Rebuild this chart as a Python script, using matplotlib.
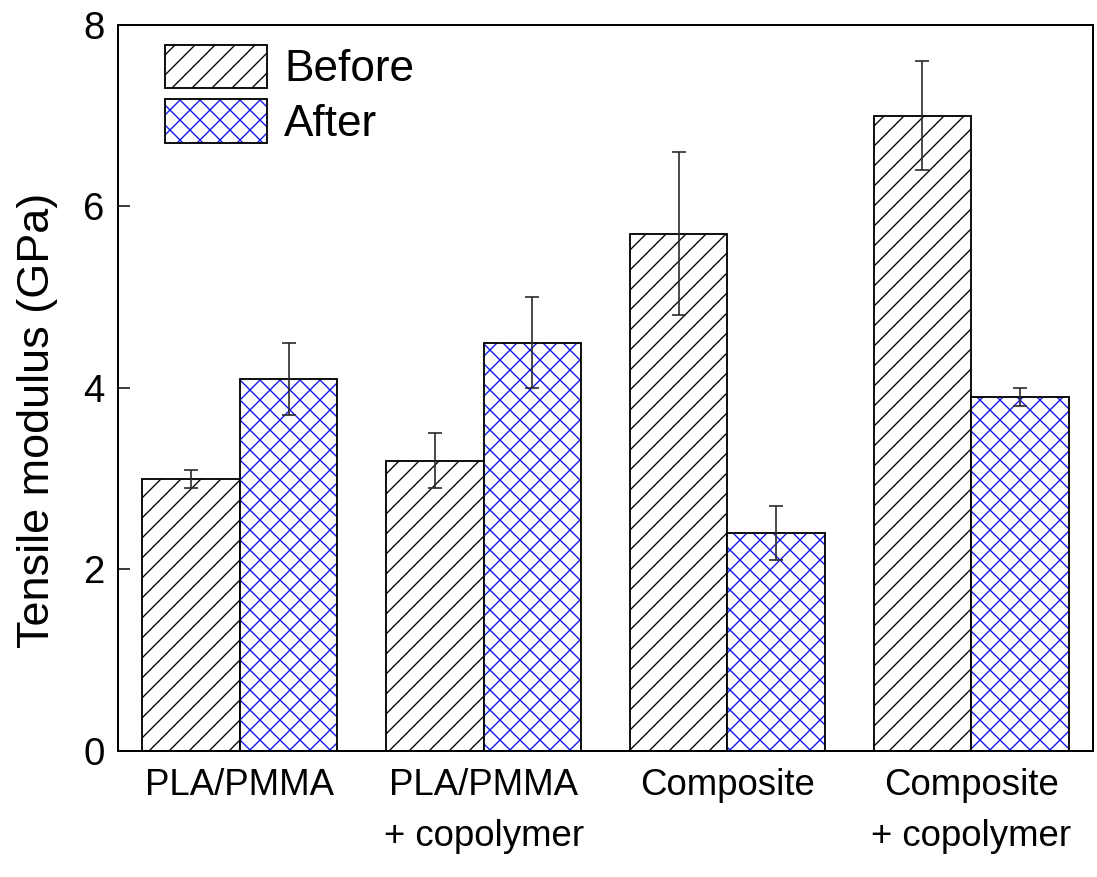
import matplotlib
matplotlib.use("Agg")
import matplotlib.pyplot as plt
import numpy as np
from matplotlib.patches import Patch
from matplotlib.legend_handler import HandlerTuple

# data
categories = ["PLA/PMMA", "PLA/PMMA\n+ copolymer", "Composite", "Composite\n+ copolymer"]
before = [3.0, 3.2, 5.7, 7.0]
before_err = [0.1, 0.3, 0.9, 0.6]
after = [4.1, 4.5, 2.4, 3.9]
after_err = [0.4, 0.5, 0.3, 0.1]

DPI = 120

plt.rcParams['font.family'] = ['Liberation Sans', 'DejaVu Sans']
plt.rcParams['hatch.linewidth'] = 0.8

fig = plt.figure(figsize=(1097 / DPI, 877 / DPI), dpi=DPI)
ax = fig.add_axes([0.1076, 0.1437, 0.8888, 0.8278])

x = np.arange(len(categories))
w = 0.4
blue = '#1010e8'

ax.bar(x - w / 2, before, w, color='white', edgecolor='black', hatch='//', linewidth=1.1, zorder=2)
# after bars: blue hatch first, black outline on top
ax.bar(x + w / 2, after, w, color='white', edgecolor=blue, hatch='xx', linewidth=0, zorder=2)
ax.bar(x + w / 2, after, w, fill=False, edgecolor='black', linewidth=1.1, zorder=3)

ax.errorbar(x - w / 2, before, yerr=before_err, fmt='none', ecolor='#2a2a2a',
            elinewidth=1.0, capsize=4.2, capthick=1.0, zorder=4)
ax.errorbar(x + w / 2, after, yerr=after_err, fmt='none', ecolor='#2a2a2a',
            elinewidth=1.0, capsize=4.2, capthick=1.0, zorder=4)

ax.set_xlim(-0.5, 3.5)
ax.set_ylim(0, 8)
ax.set_yticks([0, 2, 4, 6, 8])
ax.set_xticks(x)
ax.set_xticklabels(categories, fontsize=22, linespacing=1.62)
ax.tick_params(axis='x', length=0, pad=10)
ax.tick_params(axis='y', direction='in', length=7, width=0.9, labelsize=23, pad=8)
for s in ax.spines.values():
    s.set_linewidth(1.2)

ax.set_ylabel("Tensile modulus (GPa)", fontsize=27)
ax.yaxis.set_label_coords(-0.062, 0.456)

h_before = Patch(facecolor='white', edgecolor='black', hatch='//', linewidth=1.1)
h_after_fill = Patch(facecolor='white', edgecolor=blue, hatch='xx', linewidth=0)
h_after_edge = Patch(fill=False, edgecolor='black', linewidth=1.1)
ax.legend([h_before, (h_after_fill, h_after_edge)], ["Before", "After"],
          handler_map={tuple: HandlerTuple(ndivide=1, pad=0)},
          loc='upper left', bbox_to_anchor=(0.048, 0.973), frameon=False,
          fontsize=26.5, handlelength=2.32, handleheight=1.15,
          handletextpad=0.38, labelspacing=0.2, borderpad=0, borderaxespad=0)

fig.savefig("out.png", dpi=DPI)
